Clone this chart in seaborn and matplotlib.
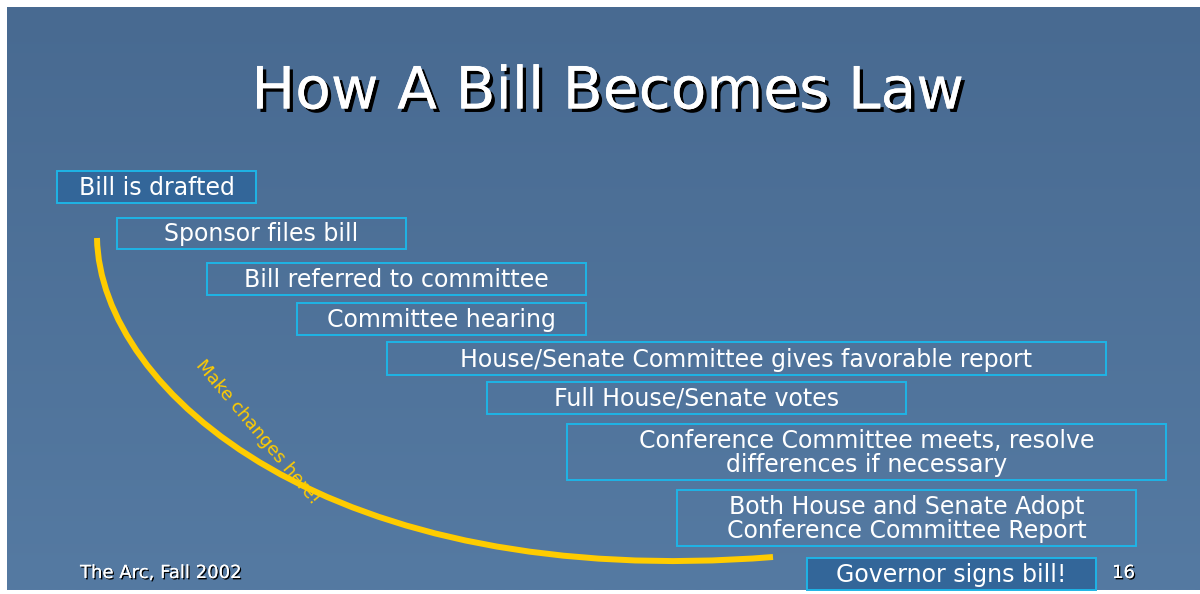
import numpy as np
import matplotlib
matplotlib.use('Agg')
import matplotlib.pyplot as plt
import matplotlib.patheffects as pe
from matplotlib.patches import Rectangle, PathPatch
from matplotlib.path import Path
import seaborn as sns

sns.set_theme(style='white')
# wide sans to mimic the tracked-out slide lettering
plt.rcParams['font.family'] = ['DejaVu Sans']

# %% slide content
title = 'How A Bill Becomes Law'
steps = [
    'Bill is drafted',
    'Sponsor files bill',
    'Bill referred to committee',
    'Committee hearing',
    'House/Senate Committee gives favorable report',
    'Full House/Senate votes',
    'Conference Committee meets, resolve\ndifferences if necessary',
    'Both House and Senate Adopt\nConference Committee Report',
    'Governor signs bill!',
]
filled = [True, False, False, False, False, False, False, False, True]
arc_label = 'Make changes here!'
footer = 'The Arc, Fall 2002'
page = '16'

# %% layout (pixel coords of the 1200x594 slide)
box_left = [57, 117, 207, 297, 387, 487, 567, 677, 807]
box_right = [256, 406, 586, 586, 1106, 906, 1166, 1136, 1096]
box_top = [171, 218, 263, 303, 342, 382, 424, 490, 558]
box_bottom = [203, 249, 295, 335, 375, 414, 480, 546, 590]

bg_top = np.array([0x48, 0x6a, 0x91]) / 255
bg_bot = np.array([0x55, 0x7a, 0xa2]) / 255
edge = '#1eb4e6'
fill = '#336699'
gold = '#ffcc00'

fig = plt.figure(figsize=(12, 5.94), dpi=100)
ax = fig.add_axes([0, 0, 1, 1])
ax.set_xlim(0, 1200)
ax.set_ylim(594, 0)
ax.axis('off')
fig.patch.set_facecolor('white')

# background gradient
grad = np.linspace(0, 1, 256)[:, None, None]
bg = bg_top[None, None, :] * (1 - grad) + bg_bot[None, None, :] * grad
ax.imshow(bg, extent=[7, 1200, 590, 7], aspect='auto', zorder=0)

def drop(off):
    return [pe.withSimplePatchShadow(offset=(off, -off), shadow_rgbFace='black', alpha=1), pe.Normal()]

ax.text(608, 92, title, fontsize=42, color='white', ha='center', va='center',
        path_effects=drop(2.5), zorder=5)

for lab, f, l, r, t, b in zip(steps, filled, box_left, box_right, box_top, box_bottom):
    ax.add_patch(Rectangle((l, t), r - l, b - t, facecolor=fill if f else 'none',
                           edgecolor=edge, linewidth=1.4, zorder=3))
    ax.text((l + r) / 2, (t + b) / 2 + 1, lab, fontsize=17, color='white', ha='center',
            va='center', linespacing=1.05, zorder=4)

# yellow arc
verts = [(97, 238), (100, 392), (330, 592), (773, 557)]
codes = [Path.MOVETO, Path.CURVE4, Path.CURVE4, Path.CURVE4]
ax.add_patch(PathPatch(Path(verts, codes), facecolor='none', edgecolor=gold,
                       linewidth=4.3, capstyle='butt', zorder=2))
ax.text(258, 432, arc_label, fontsize=13, color=gold, rotation=-50,
        rotation_mode='anchor', ha='center', va='center', zorder=4)

ax.text(80, 573, footer, fontsize=13, color='white', ha='left', va='center',
        path_effects=drop(1))
ax.text(1112, 573, page, fontsize=13, color='white', ha='left', va='center',
        path_effects=drop(1))

fig.savefig('out.png', dpi=100)
